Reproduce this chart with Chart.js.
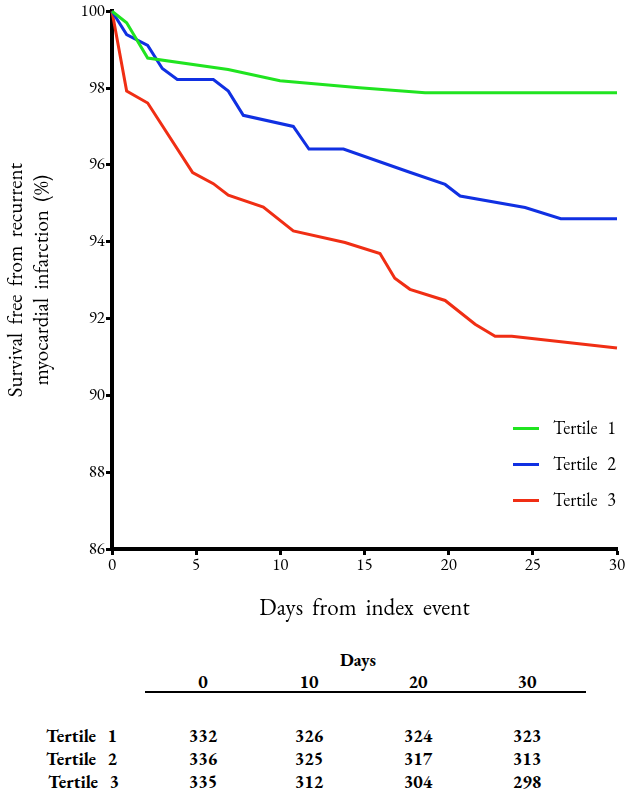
<!DOCTYPE html>
<html>
<head>
<meta charset="utf-8">
<script src="https://cdn.jsdelivr.net/npm/chart.js@4.4.0/dist/chart.umd.min.js"></script>
<style>
  html,body{margin:0;padding:0;background:#fff;}
  body{width:628px;height:797px;position:relative;overflow:hidden;font-family:"EB Garamond","Liberation Serif",serif;color:#000;}
  #wrap{position:absolute;left:0;top:0;width:628px;height:630px;}
  .leg{position:absolute;font-size:18px;word-spacing:6px;line-height:22px;}
  .leg .sw{position:absolute;width:26px;height:3px;}
  .tb{position:absolute;font-weight:bold;font-size:18px;transform:translate(-50%,-50%);white-space:nowrap;font-variant-numeric:lining-nums;}
  .rl{position:absolute;font-weight:bold;font-size:18px;transform:translateY(-50%);white-space:nowrap;word-spacing:7px;font-variant-numeric:lining-nums;}
</style>
</head>
<body>
<div id="wrap"><canvas id="c"></canvas></div>
<div id="legend"></div>
<div id="table"></div>
<script>
// ---- data ----
const seriesNames = ["Tertile 1", "Tertile 2", "Tertile 3"];
const seriesColors = ["#20e420", "#1030e2", "#f02e14"];
const t1Days = [0, 0.87, 2.12, 6.9, 9.98, 14.7, 18.6, 30];
const t1Surv = [100, 99.70, 98.78, 98.48, 98.19, 98.01, 97.88, 97.88];
const t2Days = [0, 0.87, 2.12, 2.99, 3.88, 6.02, 6.91, 7.8, 10.77, 11.7, 13.75, 17.6, 19.79, 20.68, 24.54, 26.66, 30];
const t2Surv = [100, 99.39, 99.11, 98.51, 98.22, 98.22, 97.92, 97.29, 97.0, 96.41, 96.41, 95.82, 95.49, 95.19, 94.89, 94.6, 94.6];
const t3Days = [0, 0.87, 2.12, 4.79, 6.02, 6.91, 8.99, 10.77, 13.84, 15.92, 16.8, 17.7, 19.79, 21.57, 22.76, 23.75, 30];
const t3Surv = [100, 97.92, 97.61, 95.8, 95.51, 95.21, 94.9, 94.28, 93.98, 93.69, 93.05, 92.76, 92.47, 91.85, 91.54, 91.54, 91.23];
const xTicks = [0, 5, 10, 15, 20, 25, 30];
const yTicks = [86, 88, 90, 92, 94, 96, 98, 100];
const tableDays = ["0", "10", "20", "30"];
const atRisk1 = [332, 326, 324, 323];
const atRisk2 = [336, 325, 317, 313];
const atRisk3 = [335, 312, 304, 298];

const days = [t1Days, t2Days, t3Days];
const surv = [t1Surv, t2Surv, t3Surv];

const datasets = seriesNames.map((n, i) => ({
  label: n,
  data: days[i].map((d, k) => ({x: d, y: surv[i][k]})),
  borderColor: seriesColors[i],
  backgroundColor: seriesColors[i],
  borderWidth: 3,
  pointRadius: 0,
  tension: 0,
  clip: false
}));

const FONT = "'EB Garamond', 'Liberation Serif', serif";

new Chart(document.getElementById('c'), {
  type: 'line',
  data: {datasets},
  options: {
    responsive: true,
    maintainAspectRatio: false,
    animation: false,
    layout: {padding: {top: 11, right: 11, left: 0, bottom: 0}},
    plugins: {legend: {display: false}, tooltip: {enabled: false}},
    scales: {
      x: {
        type: 'linear', min: 0, max: 30,
        afterBuildTicks: s => { s.ticks = xTicks.map(v => ({value: v})); },
        afterFit: s => { s.height = 81; },
        grid: {drawOnChartArea: false, tickLength: 6, tickWidth: 3, tickColor: '#000'},
        border: {display: true, color: '#000', width: 4},
        ticks: {color: '#000', font: {family: FONT, size: 17}, padding: 0, maxRotation: 0},
        title: {display: true, text: 'Days  from  index  event', color: '#000', font: {family: FONT, size: 23}, padding: {top: 0, bottom: 7}}
      },
      y: {
        type: 'linear', min: 86, max: 100,
        afterBuildTicks: s => { s.ticks = yTicks.map(v => ({value: v})); },
        afterFit: s => { s.width = 112; },
        grid: {drawOnChartArea: false, tickLength: 6, tickWidth: 3, tickColor: '#000'},
        border: {display: true, color: '#000', width: 4},
        ticks: {color: '#000', font: {family: FONT, size: 17}, padding: 1},
        title: {display: true, text: ['Survival  free  from  recurrent', 'myocardial  infarction  (%)'], color: '#000', font: {family: FONT, size: 21, lineHeight: 1.25}, padding: {top: 3, bottom: 0}}
      }
    }
  }
});

// legend (HTML) built from the series arrays
const leg = document.getElementById('legend');
const legY = [428, 464, 500];
seriesNames.forEach((n, i) => {
  const d = document.createElement('div');
  d.className = 'leg';
  d.style.left = '553px';
  d.style.top = (legY[i] - 11) + 'px';
  d.textContent = n;
  const sw = document.createElement('div');
  sw.className = 'sw';
  sw.style.background = seriesColors[i];
  sw.style.left = '-40px';
  sw.style.top = '10px';
  d.appendChild(sw);
  leg.appendChild(d);
});

// at-risk table
const tb = document.getElementById('table');
function put(cls, txt, x, y) {
  const d = document.createElement('div');
  d.className = cls;
  d.textContent = txt;
  d.style.left = x + 'px';
  d.style.top = y + 'px';
  tb.appendChild(d);
}
put('tb', 'Days', 358, 659);
const colX = [203, 309, 418, 527];
tableDays.forEach((t, i) => put('tb', t, colX[i], 681));
const hr = document.createElement('div');
hr.style.cssText = 'position:absolute;left:145px;top:691px;width:441px;height:2px;background:#000;';
tb.appendChild(hr);
const rows = [atRisk1, atRisk2, atRisk3];
const rowY = [735, 758, 781];
rows.forEach((r, j) => {
  put('rl', seriesNames[j], j === 2 ? 48 : 46, rowY[j]);
  r.forEach((v, i) => put('tb', String(v), colX[i], rowY[j]));
});
</script>
</body>
</html>
